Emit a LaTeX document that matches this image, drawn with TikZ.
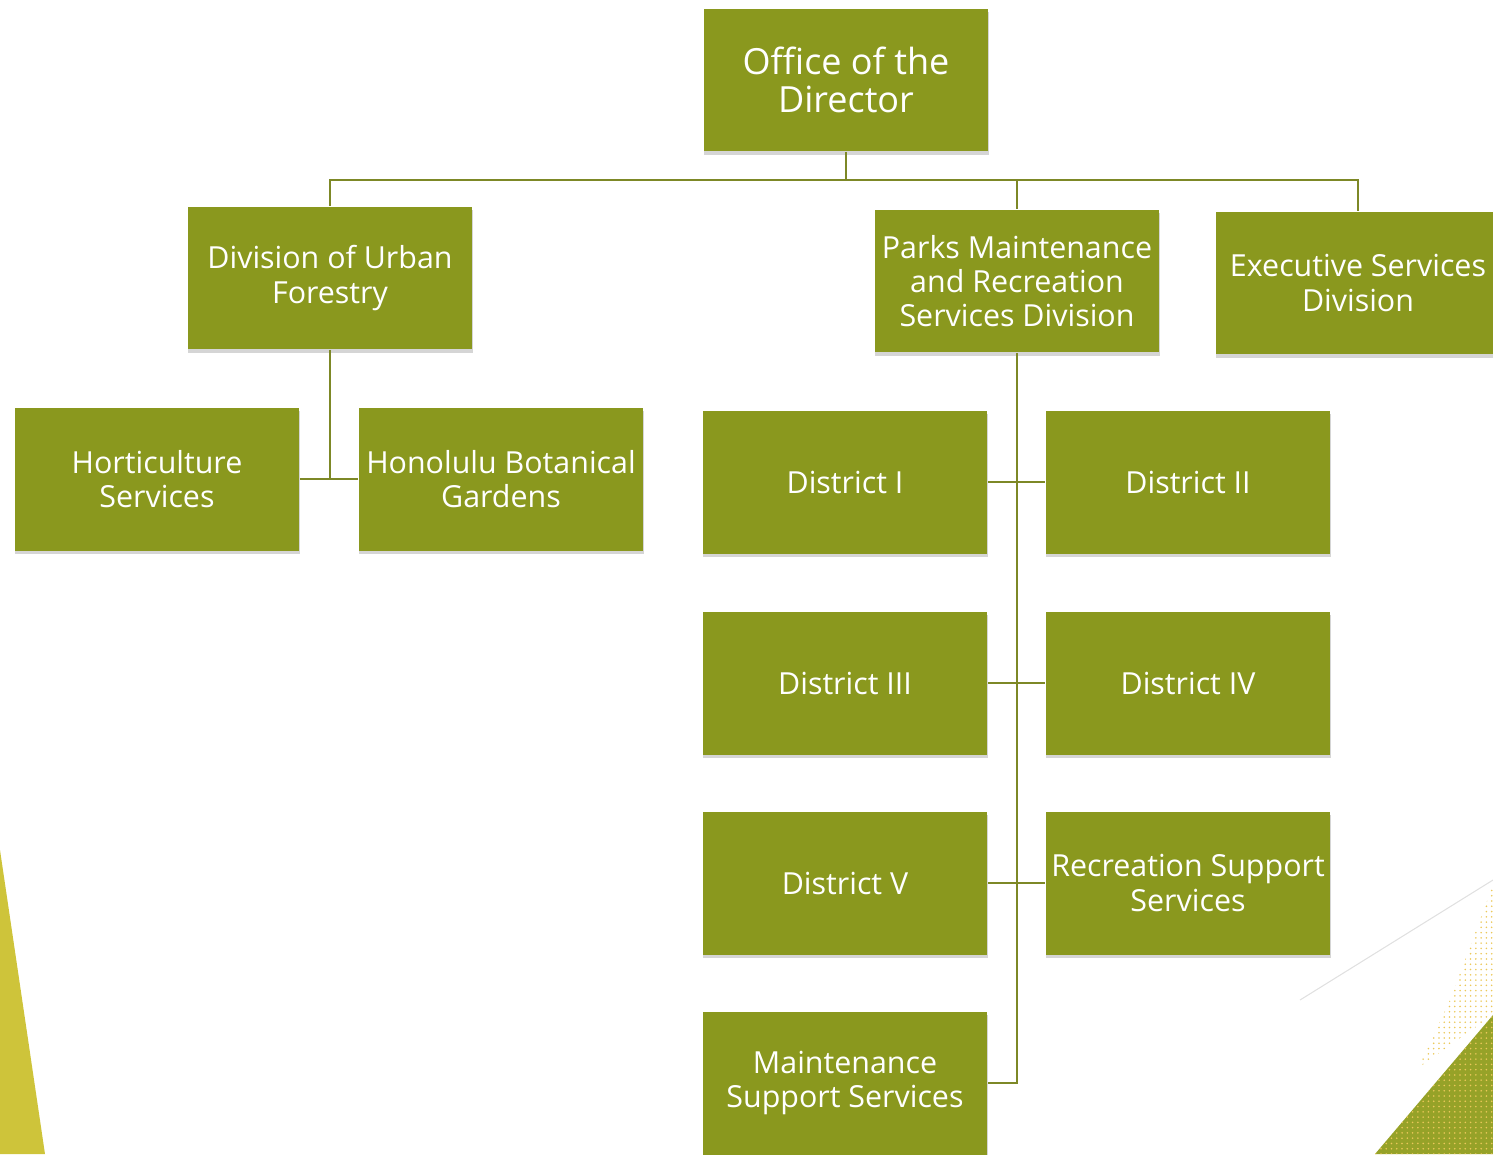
\documentclass[tikz,border=0pt]{standalone}
\usepackage{fontspec}
\setmainfont{Open Sans}
\usetikzlibrary{shadows, patterns}
\definecolor{boxgreen}{RGB}{138,152,30}
\definecolor{linegreen}{RGB}{125,136,38}
\definecolor{sideyellow}{RGB}{206,196,58}
\definecolor{cornergreen}{RGB}{150,162,40}
\definecolor{dotyellow}{RGB}{235,200,90}

\begin{document}
\begin{tikzpicture}[x=0.02cm, y=-0.02cm]
            \tikzstyle{unit}=[draw=none, fill=boxgreen, text=white, minimum width=5.7cm, minimum height=2.86cm, inner sep=0pt, align=center, font=\fontsize{17.3}{19.4}\selectfont, drop shadow={shadow xshift=0.4pt, shadow yshift=-2.2pt, fill=black!30, opacity=0.55}]
            \tikzstyle{link}=[draw=linegreen, line width=1.6pt]
            \useasboundingbox (0,0) rectangle (1493,1154);
            \clip (0,0) rectangle (1493,1154);
            \fill [sideyellow] (0,850) -- (45,1154) -- (0,1154) -- cycle;
            \draw [black!12, line width=0.6pt] (1300,1000) -- (1493,880);
            \fill [pattern=dots, pattern color=dotyellow] (1493,885) -- (1450,1000) -- (1418,1068) -- (1493,1015) -- cycle;
            \fill [cornergreen] (1493,1015) -- (1375,1154) -- (1493,1154) -- cycle;
            \fill [pattern=dots, pattern color=dotyellow] (1493,1015) -- (1375,1154) -- (1493,1154) -- cycle;
            \node [unit, font=\fontsize{20.5}{21.8}\selectfont] (director) at (846,80) {Office of the\\Director};
            \node [unit] (urban) at (330,278) {Division of Urban\\Forestry};
            \node [unit] (parks) at (1017,281) {Parks Maintenance\\and Recreation\\Services Division};
            \node [unit] (exec) at (1358,283) {Executive Services\\Division};
            \node [unit] (hort) at (157,479) {Horticulture\\Services};
            \node [unit] (hono) at (501,479) {Honolulu Botanical\\Gardens};
            \node [unit] (d1) at (845,482) {District I};
            \node [unit] (d2) at (1188,482) {District II};
            \node [unit] (d3) at (845,683) {District III};
            \node [unit] (d4) at (1188,683) {District IV};
            \node [unit] (d5) at (845,883) {District V};
            \node [unit] (rec) at (1188,883) {Recreation Support\\Services};
            \node [unit] (maint) at (845,1083) {Maintenance\\Support Services};
            \coordinate (bus) at (846,180);
            \draw [link] (director.south) -- (bus);
            \draw [link] (urban.north) |- (bus) -| (exec.north);
            \draw [link] (bus) -| (parks.north);
            \draw [link] (urban.south) |- (hort.east);
            \draw [link] (hort.east) -- (hono.west);
            \draw [link] (parks.south) |- (maint.east);
            \foreach \l/\r in {d1/d2, d3/d4, d5/rec}
                \draw [link] (\l.east) -- (\r.west);
            \end{tikzpicture}
\end{document}
